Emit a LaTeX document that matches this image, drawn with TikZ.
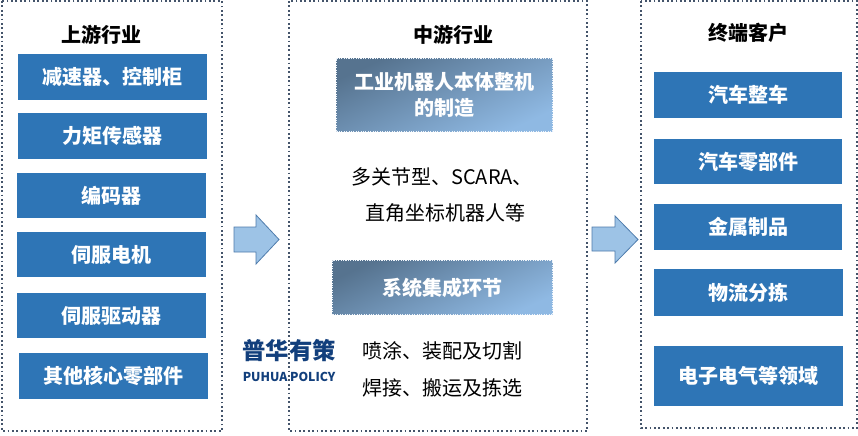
\documentclass[tikz,border=0pt]{standalone}
\usepackage{fontspec}
\setmainfont{Noto Sans CJK SC}
\usetikzlibrary{positioning}
\definecolor{boxblue}{HTML}{2E75B6}
\definecolor{framegrey}{HTML}{44546A}
\definecolor{gradA}{HTML}{56738F}
\definecolor{gradB}{HTML}{8FB9E3}
\definecolor{arrowfill}{HTML}{9DC3E6}
\definecolor{arrowline}{HTML}{4F7CAC}
\definecolor{logoblue}{HTML}{123F7C}
\tikzset{
  x=0.75pt,y=-0.75pt,
  frame/.style={draw=framegrey,line width=1.3pt,dotted},
  bluebox/.style={fill=boxblue,text=white,inner sep=0pt,font=\fontsize{15}{18}\selectfont\bfseries,align=center,anchor=north west},
  gradbox/.style={draw=white!85!gradB,line width=0.8pt,densely dotted,top color=gradA,bottom color=gradB,shading angle=25,text=white,inner sep=0pt,font=\fontsize{15}{20}\selectfont\bfseries,align=center,anchor=north west},
  heading/.style={font=\fontsize{15}{18}\selectfont\bfseries,text=black},
  plain/.style={font=\fontsize{15}{18}\selectfont,text=black,anchor=west,inner sep=0pt},
  flow/.style={draw=arrowline,fill=arrowfill,line width=0.6pt,line join=miter},
}
\newcommand{\bbox}[6]{\node[bluebox,minimum width=#4*0.75pt,minimum height=#5*0.75pt] (#1) at (#2,#3) {#6};}
\begin{document}
\begin{tikzpicture}
\useasboundingbox (0,0) rectangle (858,436);
\fill[white] (0,0) rectangle (858,436);
% frames
\draw[frame] (2,1) rectangle (222,431);
\draw[frame] (289,1) rectangle (587,431);
\draw[frame] (641,1) rectangle (857,428);
% headings
\node[heading] (hA) at (101,34.5) {上游行业};
\node[heading] (hB) at (453,34.5) {中游行业};
\node[heading] (hC) at (748,32.5) {终端客户};
% upstream
\bbox{a1}{18}{54}{189}{46}{减速器、控制柜}
\bbox{a2}{18}{113}{189}{46}{力矩传感器}
\bbox{a3}{17}{173}{189}{45}{编码器}
\bbox{a4}{17}{232}{189}{45}{伺服电机}
\bbox{a5}{17}{293}{189}{45}{伺服驱动器}
\bbox{a6}{19}{353}{189}{46}{其他核心零部件}
% customers
\bbox{c1}{654}{72}{188}{46}{汽车整车}
\bbox{c2}{654}{139}{188}{45}{汽车零部件}
\bbox{c3}{654}{204}{188}{46}{金属制品}
\bbox{c4}{654}{269}{189}{47}{物流分拣}
\bbox{c5}{654}{346}{189}{60}{电子电气等领域}
% midstream
\node[gradbox,minimum width=216*0.75pt,minimum height=73*0.75pt] (m1) at (336,58) {工业机器人本体整机\\的制造};
\node[gradbox,minimum width=220*0.75pt,minimum height=54*0.75pt] (m2) at (332,260) {系统集成环节};
\node[plain] (t1) at (351,177) {多关节型、SCARA、};
\node[plain] (t2) at (365,213) {直角坐标机器人等};
\node[plain] (t3) at (362,351) {喷涂、装配及切割};
\node[plain] (t4) at (362,388) {焊接、搬运及拣选};
% logo
\node[font=\fontsize{17.5}{20}\selectfont\bfseries,text=logoblue] (logoA) at (289,351) {普华有策};
\node[font=\fontsize{9.2}{12}\selectfont\bfseries,text=logoblue] (logoB) at (289,377) {PUHUA POLICY};
% arrows
\draw[flow] (234,227) -- (256,227) -- (256,215) -- (279,239.5) -- (256,264) -- (256,252) -- (234,252) -- cycle;
\draw[flow] (592,227) -- (615,227) -- (615,216) -- (638,239.5) -- (615,263) -- (615,251) -- (592,251) -- cycle;
\end{tikzpicture}
\end{document}
